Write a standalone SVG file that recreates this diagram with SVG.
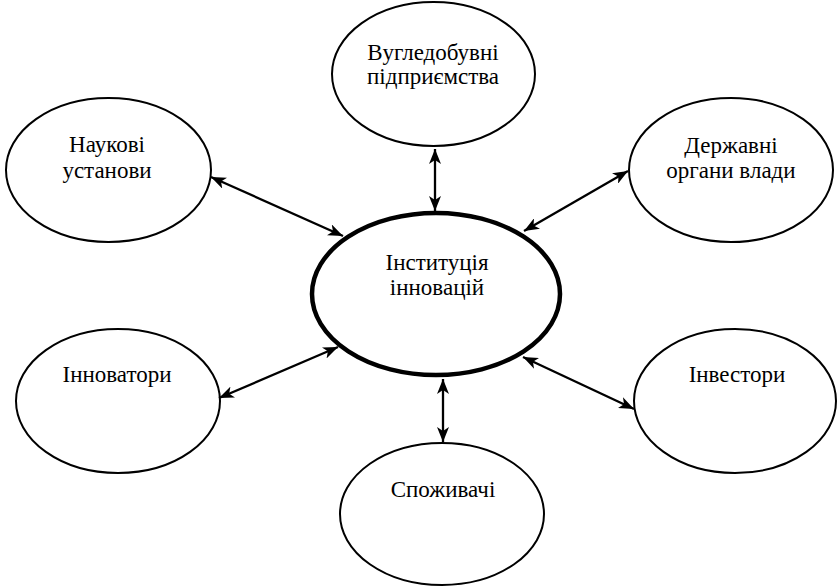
<svg xmlns="http://www.w3.org/2000/svg" width="837" height="586" viewBox="0 0 837 586">
  <style>
    .node { fill: #ffffff; stroke: #000000; stroke-width: 2; }
    .main { fill: #ffffff; stroke: #000000; stroke-width: 4.5; }
    .lbl { font-family: "Liberation Serif", "Times New Roman", serif; font-size: 23px; fill: #000000; text-anchor: middle; }
    .conn { stroke: #000000; stroke-width: 2.3; fill: none; marker-start: url(#ah); marker-end: url(#ah); }
  </style>
  <defs>
    <marker id="ah" viewBox="0 0 15 12" refX="15" refY="6" markerWidth="15" markerHeight="12" markerUnits="userSpaceOnUse" orient="auto-start-reverse">
      <path d="M0,0 L15,6 L0,12 L4,6 z" fill="#000000"/>
    </marker>
  </defs>
  <rect width="837" height="586" fill="#ffffff"/>

  <g id="n-vuhledobuvni">
    <ellipse class="node" cx="433.5" cy="74" rx="101.5" ry="72"/>
    <text class="lbl" x="433" y="60">Вугледобувні</text>
    <text class="lbl" x="433" y="84">підприємства</text>
  </g>
  <g id="n-naukovi">
    <ellipse class="node" cx="108.5" cy="170" rx="102.5" ry="72"/>
    <text class="lbl" x="107" y="152">Наукові</text>
    <text class="lbl" x="107" y="178">установи</text>
  </g>
  <g id="n-derzhavni">
    <ellipse class="node" cx="731" cy="170" rx="102" ry="72"/>
    <text class="lbl" x="731" y="153">Державні</text>
    <text class="lbl" x="731" y="178">органи влади</text>
  </g>
  <g id="n-instytutsiia">
    <ellipse class="main" cx="436" cy="294" rx="124" ry="81"/>
    <text class="lbl" x="437" y="270">Інституція</text>
    <text class="lbl" x="437" y="295">інновацій</text>
  </g>
  <g id="n-innovatory">
    <ellipse class="node" cx="118" cy="401" rx="102" ry="72"/>
    <text class="lbl" x="117" y="382">Інноватори</text>
  </g>
  <g id="n-investory">
    <ellipse class="node" cx="735" cy="401" rx="101" ry="72"/>
    <text class="lbl" x="737" y="382">Інвестори</text>
  </g>
  <g id="n-spozhyvachi">
    <ellipse class="node" cx="442" cy="514" rx="102" ry="71"/>
    <text class="lbl" x="443" y="497">Споживачі</text>
  </g>

  <g id="connectors">
    <line class="conn" x1="435" y1="149" x2="435" y2="211"/>
    <line class="conn" x1="211" y1="177" x2="343" y2="236"/>
    <line class="conn" x1="628" y1="171" x2="524" y2="231"/>
    <line class="conn" x1="219" y1="398" x2="338" y2="347"/>
    <line class="conn" x1="523" y1="357" x2="634" y2="409"/>
    <line class="conn" x1="443" y1="379" x2="443" y2="442"/>
  </g>
</svg>
